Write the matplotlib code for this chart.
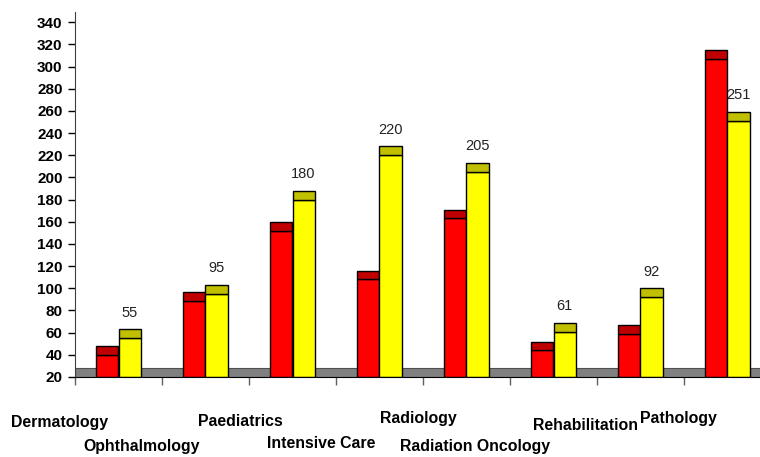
import matplotlib
matplotlib.use("Agg")
import matplotlib.pyplot as plt
import numpy as np

plt.rcParams['font.family'] = ['Liberation Sans', 'DejaVu Sans']

categories = ["Dermatology", "Ophthalmology", "Paediatrics", "Intensive Care",
              "Radiology", "Radiation Oncology", "Rehabilitation", "Pathology"]
red_values = [40, 89, 152, 108, 163, 44, 59, 307]
yellow_values = [55, 95, 180, 220, 205, 61, 92, 251]
yticks = list(range(20, 341, 20))

# label placement (pixels: left x, center y) - mimics the staggered original
label_pos = [(11, 423), (83, 446), (198, 421), (267, 443),
             (380, 419), (400, 446), (533, 425), (640, 419)]

W, H = 760, 457
fig = plt.figure(figsize=(W / 100, H / 100), dpi=100)
ax = fig.add_axes([75 / W, 1 - 377 / H, (771 - 75) / W, (377 - 11.7) / H])

base = 20
depth = 8
n = len(categories)
centers = np.arange(n) + 0.5
bw = 0.253

# floor
ax.axhspan(base, base + depth, facecolor='#808080', edgecolor='#505050', lw=0.8, zorder=1)

red = np.array(red_values, float)
yel = np.array(yellow_values, float)

ax.bar(centers - bw / 2, red - base, bottom=base, width=bw, color='#FF0000',
       edgecolor='black', lw=1, zorder=3)
ax.bar(centers - bw / 2, depth, bottom=red, width=bw, color='#C00000',
       edgecolor='black', lw=1, zorder=3)
ax.bar(centers + bw / 2, yel - base, bottom=base, width=bw, color='#FFFF00',
       edgecolor='black', lw=1, zorder=3)
ax.bar(centers + bw / 2, depth, bottom=yel, width=bw, color='#C0C000',
       edgecolor='black', lw=1, zorder=3)

for c, v in zip(centers, yellow_values):
    ax.annotate(str(v), (c + bw / 2, v + depth), xytext=(0, 12),
                textcoords='offset points', ha='center', va='center',
                fontsize=10.5, color='#222222')

ax.set_xlim(0, n)
ax.set_ylim(base, 349.5)
ax.set_yticks(yticks)
ax.set_xticks(np.arange(n + 1))
ax.set_xticklabels([])
ax.tick_params(axis='y', direction='out', length=5, width=1, pad=4,
               labelsize=11, colors='black')
ax.tick_params(axis='x', direction='out', length=6, width=1, color='#606060')
for lab in ax.get_yticklabels():
    lab.set_fontweight('bold')

ax.spines['top'].set_visible(False)
ax.spines['right'].set_visible(False)
ax.spines['left'].set_color('#404040')
ax.spines['bottom'].set_color('black')
ax.spines['bottom'].set_zorder(4)

for name, (px, py) in zip(categories, label_pos):
    fig.text(px / W, 1 - py / H, name, ha='left', va='center',
             fontsize=11.4, fontweight='bold', color='black')

fig.savefig("out.png", dpi=100)
